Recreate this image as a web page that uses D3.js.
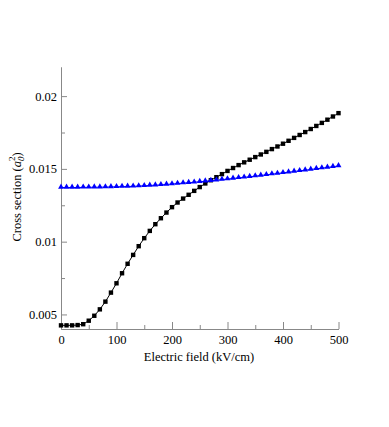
<!DOCTYPE html>
<html><head><meta charset="utf-8">
<script src="https://cdn.jsdelivr.net/npm/d3@7"></script>
<style>body{margin:0;background:#fff}svg{display:block}svg text{font-family:"Liberation Serif","Times New Roman",serif !important;fill:#000}</style>
</head><body>
<script>
const fields = d3.range(0, 501, 10);
const blackValues = [0.00425,0.00425,0.00425,0.00427,0.00433,0.00457,0.00491,0.00535,0.00588,0.0065,0.00714,0.00783,0.00848,0.00909,0.00969,0.01024,0.01074,0.0112,0.01161,0.012,0.01237,0.01269,0.01296,0.01322,0.01349,0.01375,0.014,0.01422,0.01443,0.01464,0.01486,0.01506,0.01526,0.01545,0.01563,0.01581,0.01599,0.01617,0.01636,0.01654,0.01673,0.01693,0.01713,0.01733,0.01753,0.01774,0.01795,0.01816,0.01838,0.0186,0.01883];
const blueValues = [0.01372,0.01372,0.01372,0.01372,0.01373,0.01373,0.01374,0.01374,0.01375,0.01376,0.01377,0.01378,0.01379,0.0138,0.01382,0.01384,0.01386,0.01388,0.0139,0.01393,0.01396,0.01399,0.01402,0.01405,0.01408,0.01412,0.01415,0.01419,0.01422,0.01426,0.0143,0.01434,0.01438,0.01442,0.01446,0.0145,0.01455,0.01459,0.01464,0.01468,0.01473,0.01477,0.01482,0.01487,0.01491,0.01496,0.01501,0.01505,0.0151,0.01515,0.0152];
const xTicks = [0,100,200,300,400,500];
const xMinor = [50,150,250,350,450];
const yTicks = [0.005,0.01,0.015,0.02];
const yMinor = [0.0075,0.0125,0.0175];

const W=389,H=427;
const svg=d3.select("body").append("svg").attr("width",W).attr("height",H);
const x=d3.scaleLinear().domain([0,500]).range([61,338.5]);
const y=d3.scaleLinear().domain([0.004,0.022]).range([329,67]);

const xAxis=svg.append("g").attr("transform","translate(0,329)");
xAxis.call(d3.axisBottom(x).tickValues(xTicks).tickSizeInner(-7).tickSizeOuter(0).tickPadding(4).tickFormat(d3.format("d")));
xAxis.append("g").call(d3.axisBottom(x).tickValues(xMinor).tickSizeInner(-4).tickSizeOuter(0).tickFormat(""));
const yAxis=svg.append("g").attr("transform","translate(61,0)");
yAxis.call(d3.axisLeft(y).tickValues(yTicks).tickSizeInner(-6).tickSizeOuter(0).tickPadding(4).tickFormat(d=>String(+d.toFixed(3))));
yAxis.append("g").call(d3.axisLeft(y).tickValues(yMinor).tickSizeInner(-4).tickSizeOuter(0).tickFormat(""));
svg.selectAll("g").attr("font-family",null);
svg.selectAll(".domain").attr("stroke","#888").attr("stroke-width",1);
svg.selectAll(".tick line").attr("stroke","#888");
svg.selectAll(".tick text").style("font-size","12.5px").attr("fill","#000");
xAxis.selectAll(".tick text").attr("dy","0.9em");

svg.append("text").attr("x",199).attr("y",361).attr("text-anchor","middle").style("font-size","12.5px").text("Electric field (kV/cm)");
const yl=svg.append("text").attr("transform","translate(21,197) rotate(-90)").attr("text-anchor","middle").style("font-size","12.5px");
yl.append("tspan").text("Cross section (");
yl.append("tspan").attr("font-style","italic").text("a");
yl.append("tspan").style("font-size","9px").attr("font-style","italic").attr("dy",3).text("0");
yl.append("tspan").style("font-size","9px").attr("dx",-4.5).attr("dy",-9).text("2");
yl.append("tspan").attr("dy",6).text(")");

const line=d3.line().x((d,i)=>x(fields[i])).y(d=>y(d));
svg.append("path").datum(blackValues).attr("d",line).attr("fill","none").attr("stroke","#000").attr("stroke-width",1);
svg.append("path").datum(blueValues).attr("d",line).attr("fill","none").attr("stroke","#00f").attr("stroke-width",1);
svg.append("g").selectAll("rect").data(blackValues).join("rect")
  .attr("x",(d,i)=>x(fields[i])-2.2).attr("y",d=>y(d)-2.2).attr("width",4.4).attr("height",4.4).attr("fill","#000");
const tri=d3.symbol().type(d3.symbolTriangle).size(15);
svg.append("g").selectAll("path").data(blueValues).join("path")
  .attr("d",tri).attr("transform",(d,i)=>`translate(${x(fields[i])},${y(d)-0.5})`).attr("fill","#00f");
</script>
</body></html>
